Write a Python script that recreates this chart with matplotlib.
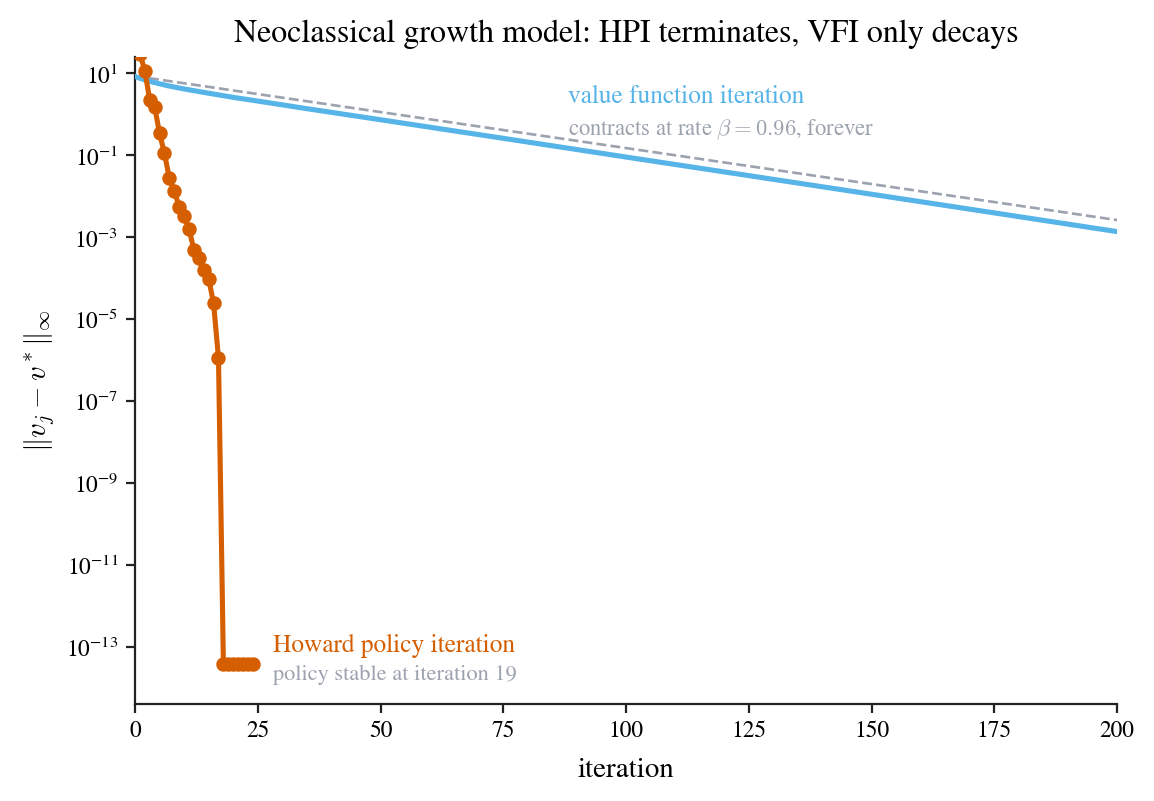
import matplotlib
matplotlib.use("Agg")
import matplotlib.pyplot as plt

plt.rcParams["font.family"] = ["STIXGeneral", "DejaVu Serif"]
plt.rcParams["mathtext.fontset"] = "cm"

# Howard policy iteration errors
hpi_iter = [1, 2, 3, 4, 5, 6, 7, 8, 9, 10, 11, 12, 13, 14, 15, 16, 17,
            18, 19, 20, 21, 22, 23, 24]
hpi_err = [30, 11.4, 2.2, 1.5, 0.34, 0.11, 0.027, 0.013, 0.0055, 0.0032,
           0.0016, 4.8e-4, 3.0e-4, 1.6e-4, 9.7e-5, 2.4e-5, 1.1e-6,
           3.8e-14, 3.8e-14, 3.8e-14, 3.8e-14, 3.8e-14, 3.8e-14, 3.8e-14]

# value function iteration errors
vfi_iter = [0, 1, 2, 3, 5, 7, 10, 15, 20, 26, 35, 48, 75, 101, 125, 150,
            175, 200]
vfi_err = [8.32, 7.50, 6.84, 6.31, 5.50, 4.84, 4.12, 3.24, 2.57, 2.0, 1.36,
           0.794, 0.257, 0.0861, 0.0316, 0.0111, 3.89e-3, 1.36e-3]

# beta^j reference line (straight on log scale)
ref_iter = [0, 200]
ref_err = [8.5, 2.6e-3]

orange = "#D55E00"
blue = "#56B4E9"
grey = "#9CA3AF"

fig = plt.figure(figsize=(1154 / 160, 801 / 160), dpi=160)
ax = fig.add_axes([0.117, 0.121, 0.851, 0.808])

ax.plot(ref_iter, ref_err, ls="--", color=grey, lw=1.2, zorder=2)
ax.plot(vfi_iter, vfi_err, color=blue, lw=2.3, zorder=3)
ax.plot(hpi_iter, hpi_err, color=orange, lw=2.3, marker="o", ms=5.5,
        zorder=4)

ax.set_yscale("log")
ax.set_xlim(0, 200)
ax.set_ylim(4e-15, 25)
ax.set_yticks([1e1, 1e-1, 1e-3, 1e-5, 1e-7, 1e-9, 1e-11, 1e-13])
ax.minorticks_off()
ax.set_xticks([0, 25, 50, 75, 100, 125, 150, 175, 200])

for s in ["top", "right"]:
    ax.spines[s].set_visible(False)
for s in ["left", "bottom"]:
    ax.spines[s].set_linewidth(1.0)
    ax.spines[s].set_color("#222222")
ax.tick_params(labelsize=10.5, length=4, width=1.0, color="#222222")

ax.set_xlabel("iteration", fontsize=13, labelpad=7)
ax.set_ylabel(r"$\|v_j - v^*\|_\infty$", fontsize=13)
ax.set_title("Neoclassical growth model: HPI terminates, VFI only decays",
             fontsize=14.4, pad=6.5)

ax.text(88.2, 2.6, "value function iteration", color=blue, fontsize=11.4,
        va="center")
ax.text(88.2, 0.41, r"contracts at rate $\beta = 0.96$, forever", color=grey,
        fontsize=10.2, va="center")
ax.text(28.1, 1.05e-13, "Howard policy iteration", color=orange,
        fontsize=11.4, va="center")
ax.text(28.1, 2.1e-14, "policy stable at iteration 19", color=grey,
        fontsize=10.1, va="center")

fig.savefig("out.png", dpi=160)
